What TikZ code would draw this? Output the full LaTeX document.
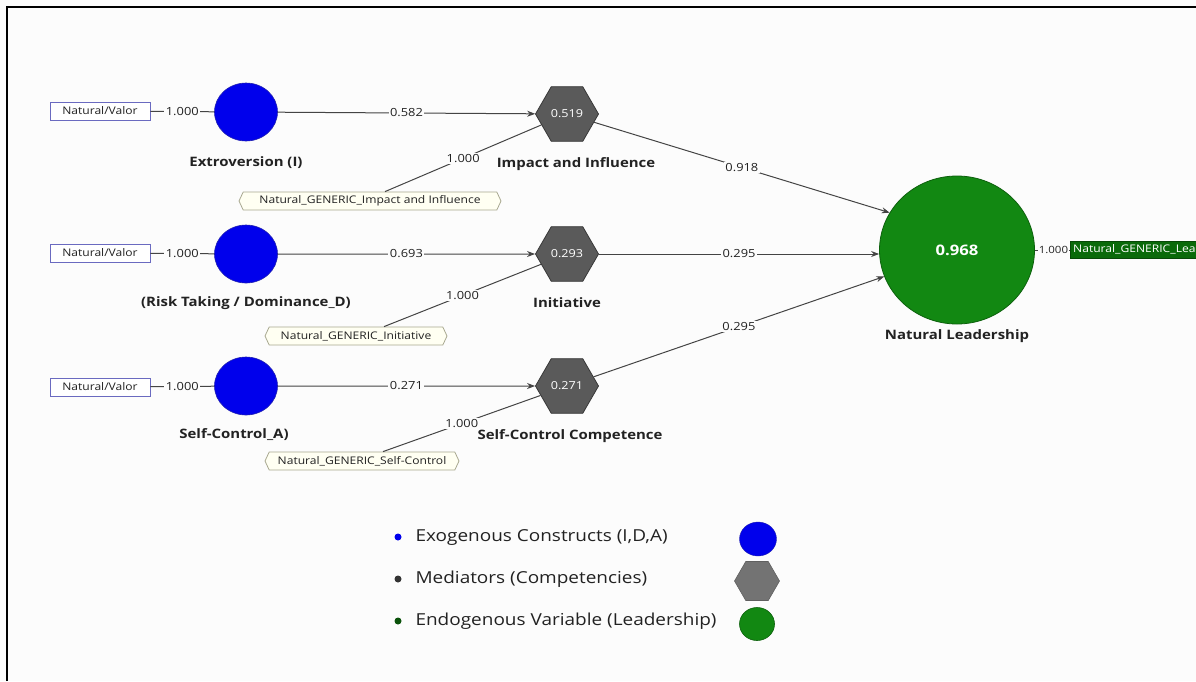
\documentclass[tikz,border=0pt]{standalone}
\usepackage{fontspec}
\setmainfont{Open Sans}[FakeStretch=1.15]
\usetikzlibrary{shapes.geometric,shapes.symbols,arrows.meta}
\definecolor{bg}{HTML}{FCFCFC}
\definecolor{exoblue}{HTML}{0000EC}
\definecolor{exoborder}{HTML}{2020B0}
\definecolor{medgray}{HTML}{5A5A5A}
\definecolor{medborder}{HTML}{383838}
\definecolor{legray}{HTML}{737373}
\definecolor{endgreen}{HTML}{128812}
\definecolor{endborder}{HTML}{0C600C}
\definecolor{boxgreen}{HTML}{0A6A0A}
\definecolor{indborder}{HTML}{6A6AC0}
\definecolor{formfill}{HTML}{FFFFF2}
\definecolor{formborder}{HTML}{A8A890}
\definecolor{edgecol}{HTML}{444444}
\definecolor{txt}{HTML}{222222}
\begin{document}
\begin{tikzpicture}[x=1pt,y=-1pt,
  exo/.style={ellipse, fill=exoblue, draw=exoborder, line width=0.6pt, minimum width=63pt, minimum height=58pt, inner sep=0pt},
  med/.style={regular polygon, regular polygon sides=6, fill=medgray, draw=medborder, line width=0.8pt, minimum size=63pt, inner sep=0pt, text=white, font=\fontsize{11}{12}\selectfont},
  endo/.style={ellipse, fill=endgreen, draw=endborder, line width=0.8pt, minimum width=155pt, minimum height=148pt, inner sep=0pt, text=white, font=\fontsize{14.5}{16}\selectfont\bfseries},
  indbox/.style={rectangle, draw=indborder, fill=white, line width=0.8pt, minimum width=100pt, minimum height=18pt, inner sep=1pt, font=\fontsize{10.5}{11}\selectfont, text=txt},
  formbox/.style={signal, signal to=west and east, signal pointer angle=130, draw=formborder, fill=formfill, line width=0.8pt, minimum height=18pt, inner sep=1pt, font=\fontsize{10.5}{11}\selectfont, text=txt},
  lab/.style={font=\fontsize{13}{15}\selectfont\bfseries, text=txt},
  wlab/.style={fill=bg, inner sep=1.5pt, font=\fontsize{11.2}{12}\selectfont, text=txt},
  edge/.style={draw=edgecol, line width=1pt, -{Stealth[length=8pt,width=6pt]}},
  plain/.style={draw=edgecol, line width=1pt},
  legtxt/.style={anchor=west, font=\fontsize{16.5}{18}\selectfont, text=txt}
]
\fill[bg] (0,0) rectangle (1196,681);
\useasboundingbox (0,0) rectangle (1196,681);
\clip (0,0) rectangle (1196,681);
\draw[line width=2.5pt, black] (7,681) -- (7,7) -- (1196,7);

% exogenous constructs
\node[exo] (c1) at (246,112) {};
\node[exo] (c2) at (246,254) {};
\node[exo] (c3) at (246,386) {};
\node[lab] (l1) at (246,163) {Extroversion (I)};
\node[lab] (l2) at (246,303) {(Risk Taking / Dominance\_D)};
\node[lab] (l3) at (234,435) {Self-Control\_A)};

% reflective indicators
\node[indbox] (i1) at (100,111) {Natural/Valor};
\node[indbox] (i2) at (100,253) {Natural/Valor};
\node[indbox] (i3) at (100,387) {Natural/Valor};
\draw[plain] (i1) -- node[wlab]{1.000} (c1);
\draw[plain] (i2) -- node[wlab]{1.000} (c2);
\draw[plain] (i3) -- node[wlab]{1.000} (c3);

% mediators
\node[med] (h1) at (567,114) {0.519};
\node[med] (h2) at (567,254) {0.293};
\node[med] (h3) at (567,386) {0.271};
\node[lab] (m1) at (576,164) {Impact and Influence};
\node[lab] (m2) at (567,303) {Initiative};
\node[lab] (m3) at (570,436) {Self-Control Competence};

\draw[edge] (c1) -- node[wlab]{0.582} (h1);
\draw[edge] (c2) -- node[wlab]{0.693} (h2);
\draw[edge] (c3) -- node[wlab]{0.271} (h3);

% formative indicators
\node[formbox, minimum width=262pt] (f1) at (370,201) {Natural\_GENERIC\_Impact and Influence};
\node[formbox, minimum width=182pt] (f2) at (356,336) {Natural\_GENERIC\_Initiative};
\node[formbox, minimum width=194pt] (f3) at (362,461) {Natural\_GENERIC\_Self-Control};
\draw[plain] ([xshift=15pt]f1.north) -- node[wlab]{1.000} (h1);
\draw[plain] ([xshift=28pt]f2.north) -- node[wlab]{1.000} (h2);
\draw[plain] ([xshift=21pt]f3.north) -- node[wlab]{1.000} (h3);

% endogenous
\node[endo] (nl) at (957,250) {0.968};
\node[lab] (nll) at (957,336) {Natural Leadership};
\draw[edge] (h1) -- node[wlab]{0.918} (nl.151);
\draw[edge] (h2.east) -- node[wlab]{0.295} (nl.west |- h2.east);
\draw[edge] (h3) -- node[wlab]{0.295} (nl.200);

\node[anchor=west, fill=boxgreen, draw=boxgreen!70!black, minimum height=17pt, inner sep=3pt, text=white, font=\fontsize{10.5}{11}\selectfont] (g) at (1070,250) {Natural\_GENERIC\_Leadership};
\draw[plain] (nl) -- node[wlab, font=\fontsize{10}{11}\selectfont, inner sep=1pt, xshift=1pt]{1.000} (g);

% legend
\fill[exoblue] (398,537) circle (3.5pt);
\node[legtxt] (t1) at (412,537) {Exogenous Constructs (I,D,A)};
\fill[black!80] (398,579) circle (3.5pt);
\node[legtxt] (t2) at (412,579) {Mediators (Competencies)};
\fill[black!40!endgreen] (398,621) circle (3.5pt);
\node[legtxt] (t3) at (412,621) {Endogenous Variable (Leadership)};
\node[ellipse, fill=exoblue, draw=exoborder, minimum width=37pt, minimum height=34pt, inner sep=0pt] (s1) at (758,539) {};
\node[regular polygon, regular polygon sides=6, fill=legray, draw=medborder!80, line width=0.6pt, minimum size=45pt, inner sep=0pt] (s2) at (757,581) {};
\node[ellipse, fill=endgreen, draw=endborder, line width=0.6pt, minimum width=35pt, minimum height=33pt, inner sep=0pt] (s3) at (757,624) {};
\end{tikzpicture}
\end{document}
